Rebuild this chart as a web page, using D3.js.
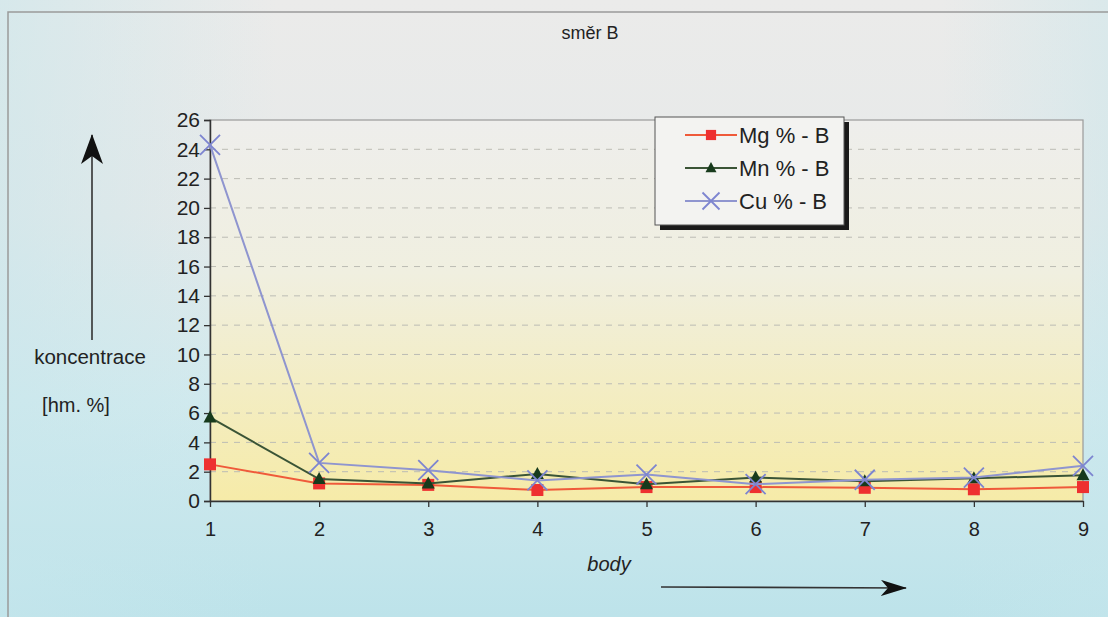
<!DOCTYPE html>
<html>
<head>
<meta charset="utf-8">
<script src="https://cdn.jsdelivr.net/npm/d3@7"></script>
<style>
  html, body { margin: 0; padding: 0; overflow: hidden; }
  svg { display: block; }
  text { font-family: "Liberation Sans", Arial, sans-serif; fill: #222; }
</style>
</head>
<body>
<svg id="chart" width="1108" height="617"></svg>
<script>
// measurement points along direction B
const points = [1, 2, 3, 4, 5, 6, 7, 8, 9];
const mg = [2.5, 1.2, 1.1, 0.75, 0.95, 0.95, 0.9, 0.8, 0.95];
const mn = [5.7, 1.5, 1.2, 1.85, 1.15, 1.6, 1.35, 1.55, 1.75];
const cu = [24.3, 2.6, 2.1, 1.4, 1.8, 1.15, 1.45, 1.6, 2.4];
const yTicks = [0, 2, 4, 6, 8, 10, 12, 14, 16, 18, 20, 22, 24, 26];
const seriesNames = ["Mg % - B", "Mn % - B", "Cu % - B"];

(function () {
const W = 1108, H = 617;
const svg = d3.select("#chart");
const defs = svg.append("defs");

const bg = defs.append("linearGradient").attr("id", "bg").attr("x1", 0).attr("y1", 0).attr("x2", 0).attr("y2", 1);
bg.append("stop").attr("offset", "0%").attr("stop-color", "#ebebea");
bg.append("stop").attr("offset", "35%").attr("stop-color", "#e6e9e9");
bg.append("stop").attr("offset", "65%").attr("stop-color", "#d2eaee");
bg.append("stop").attr("offset", "100%").attr("stop-color", "#bde3ea");

const bgSide = defs.append("linearGradient").attr("id", "bgSide").attr("x1", 0).attr("y1", 0).attr("x2", 1).attr("y2", 0);
bgSide.append("stop").attr("offset", "0%").attr("stop-color", "#c6e6ec").attr("stop-opacity", 0.55);
bgSide.append("stop").attr("offset", "25%").attr("stop-color", "#c6e6ec").attr("stop-opacity", 0);
bgSide.append("stop").attr("offset", "85%").attr("stop-color", "#c6e6ec").attr("stop-opacity", 0);
bgSide.append("stop").attr("offset", "100%").attr("stop-color", "#c6e6ec").attr("stop-opacity", 0.45);

const plotBg = defs.append("linearGradient").attr("id", "plotBg").attr("x1", 0).attr("y1", 0).attr("x2", 0).attr("y2", 1);
plotBg.append("stop").attr("offset", "0%").attr("stop-color", "#eeeeec");
plotBg.append("stop").attr("offset", "40%").attr("stop-color", "#f0efe0");
plotBg.append("stop").attr("offset", "100%").attr("stop-color", "#f6eba8");

svg.append("rect").attr("width", W).attr("height", H).attr("fill", "url(#bg)");
svg.append("rect").attr("width", W).attr("height", H).attr("fill", "url(#bgSide)");

// outer frame
svg.append("path").attr("d", "M8,617 V12 H1108").attr("fill", "none").attr("stroke", "#9a9a9a").attr("stroke-width", 1.5);

const pl = 210, pr = 1083, pt = 120, pb = 501;
const x = d3.scalePoint().domain(points).range([pl, pr]);
const y = d3.scaleLinear().domain([0, 26]).range([pb, pt]);

// plot area
svg.append("rect").attr("x", pl).attr("y", pt).attr("width", pr - pl).attr("height", pb - pt)
  .attr("fill", "url(#plotBg)").attr("stroke", "#9a9a9a").attr("stroke-width", 1.2);

// dashed gridlines
svg.append("g").selectAll("line").data(yTicks.filter(d => d > 0 && d < 26)).join("line")
  .attr("x1", pl).attr("x2", pr).attr("y1", d => y(d)).attr("y2", d => y(d))
  .attr("stroke", "#bcbcb4").attr("stroke-width", 1).attr("stroke-dasharray", "6,6");

// axes
const yAxis = svg.append("g").attr("transform", `translate(${pl},0)`)
  .call(d3.axisLeft(y).tickValues(yTicks).tickSize(6).tickPadding(4));
yAxis.select(".domain").attr("stroke", "#333").attr("stroke-width", 1.5);
yAxis.selectAll(".tick line").attr("stroke", "#333").attr("stroke-width", 1.3);
yAxis.selectAll("text").style("font-size", "21px").attr("fill", "#222");

const xAxis = svg.append("g").attr("transform", `translate(0,${pb})`)
  .call(d3.axisBottom(x).tickSize(6).tickPadding(15).tickSizeOuter(0));
xAxis.select(".domain").attr("stroke", "#333").attr("stroke-width", 1.5);
xAxis.selectAll(".tick line").attr("stroke", "#333").attr("stroke-width", 1.3);
xAxis.selectAll("text").style("font-size", "20px").attr("fill", "#222");

// series
const series = [
  { name: seriesNames[0], values: mg, color: "#ef5a3a", marker: "square", mcolor: "#ee3030" },
  { name: seriesNames[1], values: mn, color: "#3a5436", marker: "triangle", mcolor: "#173a1c" },
  { name: seriesNames[2], values: cu, color: "#8f95cf", marker: "cross", mcolor: "#7d85d0" }
];

function drawMarker(g, type, cx, cy, color, scale) {
  const s = scale || 1;
  if (type === "square") {
    g.append("rect").attr("x", cx - 6 * s).attr("y", cy - 6 * s).attr("width", 12 * s).attr("height", 12 * s).attr("fill", color);
  } else if (type === "triangle") {
    g.append("path").attr("d", `M${cx},${cy - 7 * s} L${cx + 6.5 * s},${cy + 5 * s} L${cx - 6.5 * s},${cy + 5 * s} Z`).attr("fill", color);
  } else {
    const r = 10 * s;
    g.append("path").attr("d", `M${cx - r},${cy - r} L${cx + r},${cy + r} M${cx - r},${cy + r} L${cx + r},${cy - r}`)
      .attr("stroke", color).attr("stroke-width", 1.8).attr("fill", "none");
  }
}

const line = d3.line().x((d, i) => x(points[i])).y(d => y(d));
series.forEach(s => {
  const g = svg.append("g");
  g.append("path").datum(s.values).attr("d", line).attr("fill", "none").attr("stroke", s.color).attr("stroke-width", 2);
  s.values.forEach((v, i) => drawMarker(g, s.marker, x(points[i]), y(v), s.mcolor, 1));
});

// legend
const lg = svg.append("g");
const lx = 655, ly = 117, lw = 189, lh = 108;
lg.append("rect").attr("x", lx + 5).attr("y", ly + 5).attr("width", lw).attr("height", lh).attr("fill", "#1a1a1a");
lg.append("rect").attr("x", lx).attr("y", ly).attr("width", lw).attr("height", lh).attr("fill", "#f3f3f1").attr("stroke", "#555").attr("stroke-width", 1);
series.forEach((s, i) => {
  const cy = ly + 18 + i * 33;
  lg.append("line").attr("x1", lx + 30).attr("x2", lx + 82).attr("y1", cy).attr("y2", cy).attr("stroke", s.color).attr("stroke-width", 1.8);
  drawMarker(lg, s.marker, lx + 56, cy, s.mcolor, 0.85);
  lg.append("text").attr("x", lx + 84).attr("y", cy + 8).style("font-size", "22px").text(s.name);
});

// titles
svg.append("text").attr("x", 590).attr("y", 39).attr("text-anchor", "middle").style("font-size", "18px").text("směr B");
svg.append("text").attr("x", 90).attr("y", 364).attr("text-anchor", "middle").style("font-size", "20.5px").text("koncentrace");
svg.append("text").attr("x", 76).attr("y", 412).attr("text-anchor", "middle").style("font-size", "20px").text("[hm. %]");
svg.append("text").attr("x", 609).attr("y", 571).attr("text-anchor", "middle").style("font-size", "20px").style("font-style", "italic").text("body");

// direction arrows
defs.append("marker").attr("id", "arrowHead").attr("viewBox", "0 0 26 16").attr("refX", 25).attr("refY", 8)
  .attr("markerWidth", 26).attr("markerHeight", 16).attr("markerUnits", "userSpaceOnUse").attr("orient", "auto")
  .append("path").attr("d", "M0,0 L26,8 L0,16 L7,8 Z").attr("fill", "#111");
defs.append("marker").attr("id", "arrowHeadV").attr("viewBox", "0 0 30 22").attr("refX", 29).attr("refY", 11)
  .attr("markerWidth", 30).attr("markerHeight", 22).attr("markerUnits", "userSpaceOnUse").attr("orient", "auto")
  .append("path").attr("d", "M0,0 L30,11 L0,22 L8,11 Z").attr("fill", "#111");
svg.append("line").attr("x1", 661).attr("y1", 587).attr("x2", 906).attr("y2", 588)
  .attr("stroke", "#333").attr("stroke-width", 1.6).attr("marker-end", "url(#arrowHead)");
svg.append("line").attr("x1", 92).attr("y1", 340).attr("x2", 92).attr("y2", 135)
  .attr("stroke", "#333").attr("stroke-width", 1.6).attr("marker-end", "url(#arrowHeadV)");
})();
</script>
</body>
</html>
